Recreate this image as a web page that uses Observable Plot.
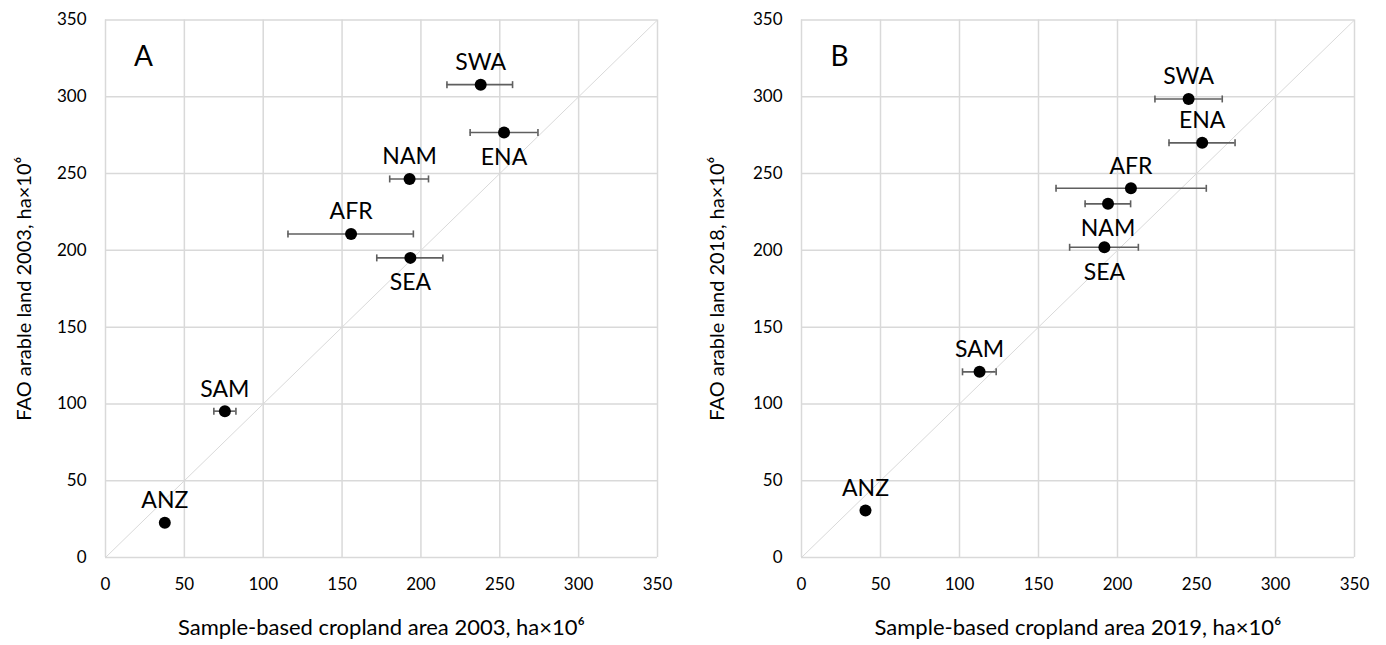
<!DOCTYPE html>
<html>
<head>
<meta charset="utf-8">
<script src="https://cdn.jsdelivr.net/npm/d3@7"></script>
<script src="https://cdn.jsdelivr.net/npm/@observablehq/plot@0.6"></script>
<style>
  html, body { margin: 0; padding: 0; background: #fff; }
  #wrap { display: flex; flex-direction: row; width: 1386px; height: 645px; }
  svg { display: block; }
</style>
</head>
<body>
<div id="wrap"></div>
<script>
// ---- data ----
const regions = ["SWA", "ENA", "NAM", "AFR", "SEA", "SAM", "ANZ"];

// Panel A (2003)
const x2003 = [237.9, 252.7, 192.8, 155.7, 193.3, 75.7, 37.6];
const y2003 = [307.9, 276.7, 246.5, 210.7, 195.1, 95.3, 22.6];
const lo2003 = [216.5, 231.2, 180.2, 115.7, 172.0, 68.7, null];
const hi2003 = [258.1, 274.2, 204.8, 195.2, 213.9, 82.7, null];
const side2003 = ["above", "below", "above", "above", "below", "above", "above"];

// Panel B (2019 / 2018)
const x2019 = [245.0, 253.6, 194.0, 208.5, 191.7, 112.7, 40.5];
const y2019 = [298.6, 270.0, 230.3, 240.4, 202.0, 120.9, 30.6];
const lo2019 = [223.7, 232.6, 179.5, 161.1, 169.7, 101.9, 38.5];
const hi2019 = [266.3, 274.4, 208.3, 256.2, 213.2, 123.2, 42.5];
const side2019 = ["above", "above", "below", "above", "below", "above", "above"];

const ticks = [0, 50, 100, 150, 200, 250, 300, 350];
const axisMax = 350;

const panels = [
  {letter: "A", xs: x2003, ys: y2003, lo: lo2003, hi: hi2003, side: side2003,
   xTitle: "Sample-based cropland area 2003, ha×10⁶", yTitle: "FAO arable land 2003, ha×10⁶",
   marginLeft: 105, marginRight: 36},
  {letter: "B", xs: x2019, ys: y2019, lo: lo2019, hi: hi2019, side: side2019,
   xTitle: "Sample-based cropland area 2019, ha×10⁶", yTitle: "FAO arable land 2018, ha×10⁶",
   marginLeft: 108, marginRight: 32}
];

const capSymbol = {
  draw(ctx) { ctx.moveTo(0, -3.5); ctx.lineTo(0, 3.5); }
};

const font = "Lato, 'Open Sans', sans-serif";
const wrap = document.getElementById("wrap");

for (const p of panels) {
  const rows = regions.map((r, i) => ({
    region: r, x: p.xs[i], y: p.ys[i], lo: p.lo[i], hi: p.hi[i], side: p.side[i]
  }));
  const withErr = rows.filter(d => d.lo != null);
  const above = rows.filter(d => d.side === "above");
  const below = rows.filter(d => d.side === "below");

  const chart = Plot.plot({
    width: 693,
    height: 645,
    marginTop: 19.5,
    marginBottom: 88,
    marginLeft: p.marginLeft,
    marginRight: p.marginRight,
    style: {fontFamily: font, color: "#000", background: "#fff"},
    x: {domain: [0, axisMax]},
    y: {domain: [0, axisMax]},
    marks: [
      Plot.gridX(ticks, {stroke: "#d9d9d9", strokeOpacity: 1, strokeWidth: 1.5}),
      Plot.gridY(ticks, {stroke: "#d9d9d9", strokeOpacity: 1, strokeWidth: 1.5}),
      Plot.link([{a: 0, b: axisMax}], {x1: "a", y1: "a", x2: "b", y2: "b", stroke: "#d9d9d9", strokeWidth: 1}),
      Plot.axisX(ticks, {tickSize: 0, tickPadding: 20, fontSize: 17, label: null}),
      Plot.axisY(ticks, {tickSize: 0, tickPadding: 19, fontSize: 17, label: null}),
      Plot.ruleY(withErr, {x1: "lo", x2: "hi", y: "y", stroke: "#5f5f5f", strokeWidth: 1.6}),
      Plot.dot(withErr, {x: "lo", y: "y", symbol: capSymbol, stroke: "#5f5f5f", strokeWidth: 1.6, fill: "none"}),
      Plot.dot(withErr, {x: "hi", y: "y", symbol: capSymbol, stroke: "#5f5f5f", strokeWidth: 1.6, fill: "none"}),
      Plot.dot(rows, {x: "x", y: "y", r: 6, fill: "#000", stroke: "none"}),
      Plot.text(above, {x: "x", y: "y", text: "region", dy: -22, fontSize: 23, fill: "#000"}),
      Plot.text(below, {x: "x", y: "y", text: "region", dy: 25, fontSize: 23, fill: "#000"}),
      Plot.text([p.letter], {frameAnchor: "top-left", dx: 38, dy: 37, fontSize: 28, fill: "#000", lineAnchor: "middle", textAnchor: "middle"}),
      Plot.text([p.xTitle], {frameAnchor: "bottom", dy: 70, fontSize: 22, fill: "#000", lineAnchor: "middle", textAnchor: "middle"}),
      Plot.text([p.yTitle], {frameAnchor: "left", dx: -(p.marginLeft - 24), rotate: -90, fontSize: 20, fill: "#000", lineAnchor: "middle", textAnchor: "middle"})
    ]
  });
  wrap.appendChild(chart);
}
</script>
</body>
</html>
